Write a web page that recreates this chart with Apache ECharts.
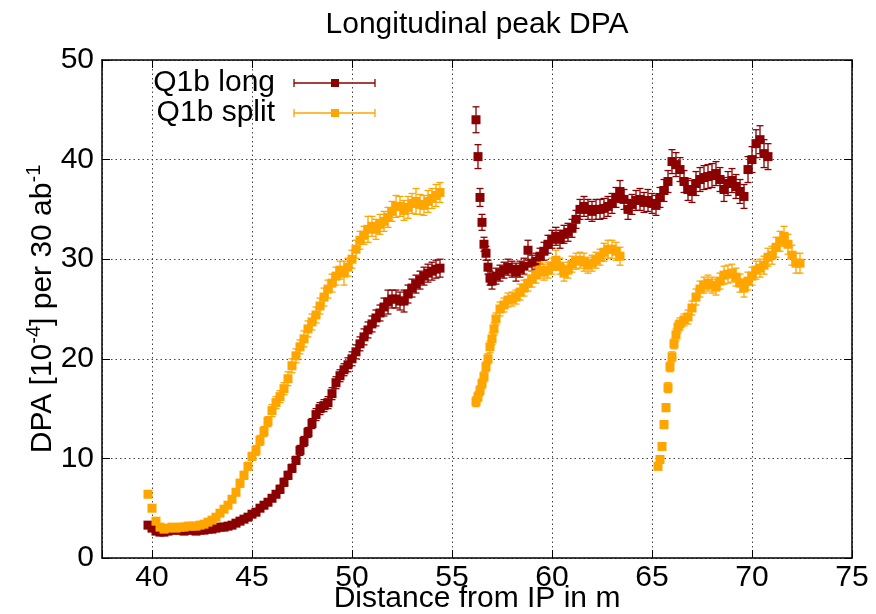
<!DOCTYPE html>
<html>
<head>
<meta charset="utf-8">
<script src="https://cdn.jsdelivr.net/npm/echarts@6.0.0/dist/echarts.min.js"></script>
<style>html,body{margin:0;padding:0;background:#fff;}#chart{width:876px;height:614px;}</style>
</head>
<body>
<div id="chart"></div>
<script>
// ---- data: [distance (m), DPA, error] ----
var longSeg1 = [
[39.8,3.3,0.2],[40.0,3.0,0.2],[40.2,2.7,0.2],[40.4,2.6,0.2],[40.6,2.6,0.2],[40.8,2.7,0.2],[41.0,2.8,0.2],[41.2,2.8,0.2],[41.4,2.8,0.2],[41.6,2.7,0.2],
[41.8,2.8,0.2],[42.0,2.8,0.2],[42.2,2.7,0.2],[42.4,2.8,0.2],[42.6,2.8,0.2],[42.8,2.9,0.2],[43.0,2.9,0.2],[43.2,3.0,0.2],[43.4,3.1,0.2],[43.6,3.1,0.2],
[43.8,3.2,0.2],[44.0,3.3,0.2],[44.2,3.5,0.2],[44.4,3.7,0.2],[44.6,3.9,0.2],[44.8,4.1,0.3],[45.0,4.4,0.3],[45.2,4.6,0.3],[45.4,5.0,0.3],[45.6,5.3,0.3],
[45.8,5.6,0.3],[46.0,6.0,0.3],[46.2,6.4,0.3],[46.4,6.9,0.4],[46.6,7.6,0.4],[46.8,8.3,0.4],[47.0,9.0,0.4],[47.2,9.8,0.4],[47.4,10.8,0.5],[47.6,11.7,0.5],
[47.8,12.6,0.5],[48.0,13.5,0.5],[48.2,14.4,0.6],[48.4,15.0,0.6],[48.6,15.3,0.6],[48.8,15.6,0.6],[49.0,16.5,0.6],[49.2,17.6,0.6],[49.4,18.3,0.6],[49.6,18.9,0.6],
[49.8,19.4,0.7],[50.0,20.0,0.7],[50.2,20.7,0.7],[50.4,21.5,0.7],[50.6,22.2,0.8],[50.8,22.9,0.8],[51.0,23.5,0.8],[51.2,24.1,0.8],[51.4,24.6,0.8],[51.6,25.2,0.9],
[51.8,25.7,1.2],[52.0,26.0,0.9],[52.2,26.0,0.9],[52.4,25.8,0.9],[52.6,25.8,1.1],[52.8,26.5,0.9],[53.0,27.1,0.9],[53.2,27.5,0.9],[53.4,27.9,0.9],[53.6,28.3,0.9],
[53.8,28.6,0.9],[54.0,28.8,0.9],[54.2,29.0,0.9],[54.4,29.1,0.9]
];
var longSeg2 = [
[56.2,44.0,1.3],[56.3,40.3,1.2],[56.4,36.2,0.9],[56.5,33.7,0.8],[56.6,31.5,0.7],[56.7,30.6,0.7],[56.8,29.2,0.7],[56.9,28.1,0.7],[57.0,27.8,0.8],[57.2,28.3,0.8],
[57.4,28.6,0.8],[57.6,28.9,0.8],[57.8,29.2,0.8],[58.0,29.0,0.8],[58.2,28.7,0.9],[58.4,29.0,0.8],[58.6,29.3,0.8],[58.8,30.9,1.0],[59.0,29.6,0.8],[59.2,29.8,0.8],
[59.4,30.3,0.8],[59.6,30.8,0.9],[59.8,31.5,0.9],[60.0,32.0,0.9],[60.2,32.3,0.9],[60.4,32.0,0.9],[60.6,32.5,0.9],[60.8,32.7,0.9],[61.0,33.1,0.9],[61.2,34.0,0.9],
[61.4,35.0,1.0],[61.6,35.3,1.0],[61.8,35.0,1.0],[62.0,34.8,1.0],[62.2,35.0,1.0],[62.4,35.0,1.0],[62.6,35.1,1.0],[62.8,35.3,1.0],[63.0,35.6,1.0],[63.2,36.2,1.0],
[63.4,36.8,1.1],[63.6,36.0,1.0],[63.8,35.0,1.0],[64.0,35.5,1.0],[64.2,35.9,1.0],[64.4,36.0,1.1],[64.6,35.7,1.0],[64.8,35.9,1.1],[65.0,35.6,1.0],[65.2,35.4,1.0],
[65.4,36.2,1.0],[65.6,36.9,1.1],[65.8,37.8,1.1],[66.0,39.8,1.2],[66.2,39.5,1.2],[66.4,39.0,1.2],[66.6,37.8,1.1],[66.8,37.0,1.1],[67.0,36.8,1.1],[67.2,37.6,1.2],
[67.4,38.0,1.2],[67.6,38.2,1.2],[67.8,38.3,1.2],[68.0,38.4,1.2],[68.2,38.6,1.2],[68.4,38.0,1.2],[68.6,37.0,1.2],[68.8,37.6,1.2],[69.0,37.9,1.2],[69.2,37.3,1.2],
[69.4,36.8,1.2],[69.6,36.3,1.2],[69.8,39.0,1.3],[70.0,40.0,1.3],[70.2,41.6,1.4],[70.4,42.0,1.4],[70.6,40.6,1.4],[70.8,40.3,1.3]
];
var splitSeg1 = [
[39.8,6.4,0.3],[40.0,5.0,0.3],[40.2,3.7,0.2],[40.4,3.1,0.2],[40.6,2.9,0.2],[40.8,3.0,0.2],[41.0,3.1,0.2],[41.2,3.0,0.2],[41.4,3.1,0.2],[41.6,3.1,0.2],
[41.8,3.2,0.2],[42.0,3.2,0.2],[42.2,3.2,0.2],[42.4,3.3,0.2],[42.6,3.4,0.2],[42.8,3.6,0.2],[43.0,3.8,0.2],[43.2,4.1,0.2],[43.4,4.5,0.3],[43.6,4.9,0.3],
[43.8,5.3,0.3],[44.0,5.9,0.3],[44.2,6.6,0.3],[44.4,7.5,0.4],[44.6,8.3,0.4],[44.8,9.2,0.4],[45.0,10.2,0.4],[45.2,10.8,0.5],[45.4,11.8,0.5],[45.6,12.7,0.5],
[45.8,13.7,0.5],[46.0,14.8,0.6],[46.2,15.6,0.6],[46.4,16.2,0.6],[46.6,17.0,0.6],[46.8,18.0,0.7],[47.0,19.3,0.7],[47.2,20.3,0.7],[47.4,21.2,0.7],[47.6,22.0,0.8],
[47.8,23.0,0.8],[48.0,23.7,0.8],[48.2,24.4,0.8],[48.4,25.3,0.8],[48.6,26.2,0.9],[48.8,27.0,0.9],[49.0,27.6,0.9],[49.2,28.3,0.9],[49.4,28.9,0.9],[49.6,28.6,1.2],
[49.8,29.2,0.9],[50.0,30.0,0.9],[50.2,31.0,0.9],[50.4,31.9,0.9],[50.6,32.4,0.9],[50.8,33.0,1.3],[51.0,33.3,1.0],[51.2,33.0,1.0],[51.4,33.5,1.0],[51.6,33.8,1.0],
[51.8,34.2,1.0],[52.0,34.8,1.0],[52.2,35.3,1.1],[52.4,35.3,1.0],[52.6,34.9,1.0],[52.8,35.2,1.1],[53.0,35.6,1.0],[53.2,35.8,1.3],[53.4,35.5,1.0],[53.6,35.4,1.0],
[53.8,35.8,1.1],[54.0,36.1,1.0],[54.2,36.4,1.1],[54.4,36.7,1.0]
];
var splitSeg2 = [
[56.2,15.7,0.5],[56.3,16.2,0.5],[56.4,16.8,0.5],[56.5,17.5,0.5],[56.6,18.2,0.5],[56.7,19.2,0.5],[56.8,20.0,0.5],[56.9,21.2,0.6],[57.0,22.0,0.6],[57.1,23.0,0.6],
[57.2,24.0,0.6],[57.4,25.0,0.7],[57.6,25.4,0.7],[57.8,25.9,0.7],[58.0,26.0,0.7],[58.2,26.2,0.7],[58.4,26.7,0.8],[58.6,27.1,0.8],[58.8,27.6,0.8],[59.0,28.0,0.8],
[59.2,28.4,0.8],[59.4,28.9,0.8],[59.6,28.7,0.8],[59.8,28.9,0.8],[60.0,29.3,0.8],[60.2,29.9,1.0],[60.4,29.3,0.8],[60.6,28.6,0.8],[60.8,28.9,0.8],[61.0,29.5,0.8],
[61.2,29.8,0.8],[61.4,29.9,0.8],[61.6,29.7,0.9],[61.8,29.4,0.8],[62.0,29.6,0.8],[62.2,29.9,0.8],[62.4,30.2,0.8],[62.6,30.7,0.9],[62.8,31.0,0.9],[63.0,31.0,0.9],
[63.2,30.8,0.9],[63.4,30.3,0.9]
];
var splitSeg3 = [
[65.3,9.2,0.3],[65.4,9.9,0.3],[65.5,11.2,0.3],[65.6,13.4,0.4],[65.7,15.1,0.4],[65.8,17.1,0.5],[65.9,19.2,0.5],[66.0,20.2,0.5],[66.1,21.5,0.5],[66.2,22.4,0.6],
[66.3,23.2,0.6],[66.4,23.5,0.6],[66.6,23.9,0.6],[66.8,24.2,0.7],[67.0,25.1,0.7],[67.2,26.2,0.8],[67.4,27.0,0.8],[67.6,27.4,0.8],[67.8,27.6,0.8],[68.0,27.4,0.8],
[68.2,27.2,0.8],[68.4,27.8,0.8],[68.6,28.4,0.9],[68.8,28.5,0.9],[69.0,28.6,0.9],[69.2,28.2,0.9],[69.4,27.6,0.9],[69.6,27.1,0.9],[69.8,27.8,0.9],[70.0,28.3,0.9],
[70.2,28.9,0.9],[70.4,29.1,0.9],[70.6,29.4,0.9],[70.8,30.2,0.9],[71.0,30.4,0.9],[71.2,31.2,1.0],[71.4,31.8,1.0],[71.6,32.3,1.0],[71.8,31.5,1.0],[72.0,30.4,1.0],
[72.2,29.6,1.0],[72.4,29.6,1.0]
];
var xTicks = [40, 45, 50, 55, 60, 65, 70, 75];
var yTicks = [0, 10, 20, 30, 40, 50];
var seriesNames = ['Q1b long', 'Q1b split'];
var titleText = 'Longitudinal peak DPA';
var xTitle = 'Distance from IP in m';

var COL_LONG = '#8b0000', COL_SPLIT = '#ffa500';
var FONT = 'Liberation Sans, Arial, Helvetica, sans-serif';

var longData = longSeg1.concat(longSeg2);
var splitData = splitSeg1.concat(splitSeg2, splitSeg3);

function errRender(color) {
  return function (params, api) {
    var x = api.value(0), y = api.value(1), e = api.value(2);
    var lo = api.coord([x, y - e]), hi = api.coord([x, y + e]);
    var hw = 3.5;
    var st = { stroke: color, lineWidth: 1.3 };
    return { type: 'group', children: [
      { type: 'line', shape: { x1: lo[0], y1: lo[1], x2: hi[0], y2: hi[1] }, style: st },
      { type: 'line', shape: { x1: lo[0] - hw, y1: lo[1], x2: lo[0] + hw, y2: lo[1] }, style: st },
      { type: 'line', shape: { x1: hi[0] - hw, y1: hi[1], x2: hi[0] + hw, y2: hi[1] }, style: st }
    ]};
  };
}

var chart = echarts.init(document.getElementById('chart'), null, { renderer: 'canvas' });
var gridLine = { show: true, lineStyle: { color: '#444', type: [1.5, 3], width: 1 } };
var axisLine = { show: true, onZero: false, lineStyle: { color: '#000', width: 1.5 } };
var tick = { show: true, inside: true, length: 8, lineStyle: { color: '#000', width: 1 } };

function legendItem(name, color, yc) {
  return [
    { type: 'text', x: 275, y: yc, style: { text: name, fill: '#000', font: '30px ' + FONT, textAlign: 'right', textVerticalAlign: 'middle' } },
    { type: 'line', shape: { x1: 294, y1: yc, x2: 375, y2: yc }, style: { stroke: color, lineWidth: 1.3 } },
    { type: 'line', shape: { x1: 294, y1: yc - 4, x2: 294, y2: yc + 4 }, style: { stroke: color, lineWidth: 1.3 } },
    { type: 'line', shape: { x1: 375, y1: yc - 4, x2: 375, y2: yc + 4 }, style: { stroke: color, lineWidth: 1.3 } },
    { type: 'rect', shape: { x: 331, y: yc - 4, width: 8, height: 8 }, style: { fill: color } }
  ];
}

var option = {
  animation: false,
  backgroundColor: '#fff',
  textStyle: { fontFamily: FONT },
  grid: { left: 102, right: 24, top: 60, bottom: 56, containLabel: false, outerBoundsMode: 'none' },
  xAxis: [{
    type: 'value', min: 37.5, max: 75, splitNumber: 7,
    axisLine: axisLine, axisTick: tick, splitLine: gridLine,
    axisLabel: { show: true, color: '#000', fontSize: 30, fontFamily: FONT, margin: 5,
      formatter: function (v) { return xTicks.indexOf(v) >= 0 ? String(v) : ''; } }
  }, {
    type: 'value', position: 'top', min: 37.5, max: 75, splitNumber: 7,
    axisLine: axisLine, axisTick: tick, splitLine: { show: false }, axisLabel: { show: false }
  }],
  yAxis: [{
    type: 'value', min: 0, max: 50, interval: 10,
    axisLine: axisLine, axisTick: tick, splitLine: gridLine,
    axisLabel: { color: '#000', fontSize: 30, fontFamily: FONT, margin: 8,
      formatter: function (v) { return yTicks.indexOf(v) >= 0 ? String(v) : ''; } },
    name: '{n|DPA [10}{s|-4}{n|] per 30 ab}{s|-1}', nameLocation: 'middle', nameGap: 44, nameRotate: 90,
    nameMoveOverlap: false,
    nameTextStyle: { color: '#000', fontSize: 30, fontFamily: FONT,
      rich: { n: { fontSize: 30, fontFamily: FONT, color: '#000', lineHeight: 34, verticalAlign: 'bottom' },
              s: { fontSize: 20, fontFamily: FONT, color: '#000', lineHeight: 34, verticalAlign: 'top' } } }
  }, {
    type: 'value', position: 'right', min: 0, max: 50, interval: 10,
    axisLine: axisLine, axisTick: tick, splitLine: { show: false }, axisLabel: { show: false }
  }],
  graphic: [
    { type: 'text', x: 477, y: 25, style: { text: titleText, fill: '#000', font: '30px ' + FONT, textAlign: 'center', textVerticalAlign: 'middle' } },
    { type: 'text', x: 477, y: 599, style: { text: xTitle, fill: '#000', font: '30px ' + FONT, textAlign: 'center', textVerticalAlign: 'middle' } }
  ].concat(legendItem(seriesNames[0], COL_LONG, 83), legendItem(seriesNames[1], COL_SPLIT, 113)),
  series: [
    { type: 'custom', name: seriesNames[0] + ' err', renderItem: errRender(COL_LONG), data: longData, encode: { x: 0, y: [1] }, z: 2, silent: true },
    { type: 'scatter', name: seriesNames[0], data: longData, encode: { x: 0, y: 1 }, symbol: 'rect', symbolSize: 9, itemStyle: { color: COL_LONG, opacity: 1 }, z: 3, silent: true },
    { type: 'custom', name: seriesNames[1] + ' err', renderItem: errRender(COL_SPLIT), data: splitData, encode: { x: 0, y: [1] }, z: 4, silent: true },
    { type: 'scatter', name: seriesNames[1], data: splitData, encode: { x: 0, y: 1 }, symbol: 'rect', symbolSize: 9, itemStyle: { color: COL_SPLIT, opacity: 1 }, z: 5, silent: true }
  ]
};
chart.setOption(option);
</script>
</body>
</html>
